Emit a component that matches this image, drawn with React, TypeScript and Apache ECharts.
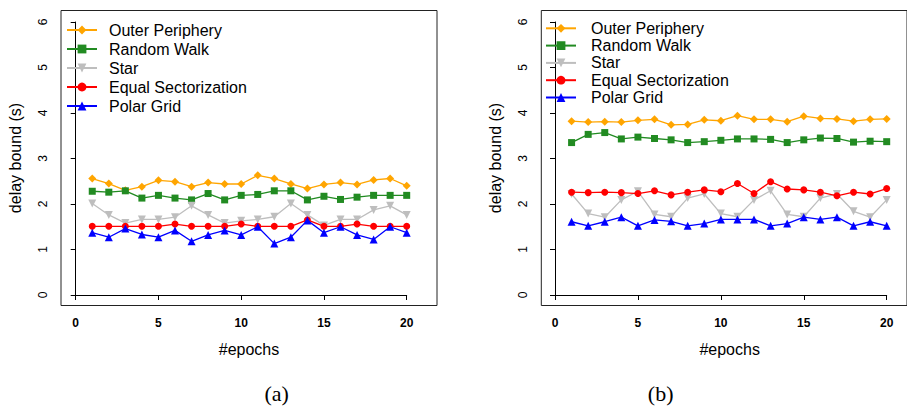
import React, { useEffect, useRef } from 'react';
import * as echarts from 'echarts';

const epochs = [1, 2, 3, 4, 5, 6, 7, 8, 9, 10, 11, 12, 13, 14, 15, 16, 17, 18, 19, 20];

const seriesNames = ['Outer Periphery', 'Random Walk', 'Star', 'Equal Sectorization', 'Polar Grid'];
const seriesColors = ['#FFA500', '#228B22', '#BEBEBE', '#FF0000', '#0000FF'];
const seriesSymbols = ['diamond', 'rect', 'path://M0,0L10,0L5,9Z', 'circle', 'triangle'];
const seriesSymbolSizes = [8, 7, 8, 7, 8];

// Panel (a)
const outerA = [2.56, 2.45, 2.3, 2.38, 2.52, 2.49, 2.38, 2.47, 2.44, 2.44, 2.63, 2.56, 2.44, 2.34, 2.43, 2.47, 2.43, 2.53, 2.56, 2.4];
const randomA = [2.28, 2.26, 2.29, 2.13, 2.19, 2.13, 2.09, 2.23, 2.09, 2.19, 2.21, 2.29, 2.29, 2.09, 2.17, 2.1, 2.15, 2.19, 2.19, 2.19];
const starA = [2.01, 1.76, 1.58, 1.66, 1.66, 1.71, 1.96, 1.76, 1.58, 1.63, 1.66, 1.72, 2.01, 1.76, 1.53, 1.66, 1.66, 1.87, 1.96, 1.76];
const equalA = [1.51, 1.51, 1.51, 1.51, 1.51, 1.56, 1.51, 1.51, 1.51, 1.56, 1.51, 1.51, 1.51, 1.65, 1.51, 1.51, 1.56, 1.51, 1.51, 1.51];
const polarA = [1.37, 1.27, 1.46, 1.33, 1.27, 1.42, 1.18, 1.32, 1.42, 1.32, 1.5, 1.13, 1.27, 1.64, 1.37, 1.5, 1.32, 1.22, 1.5, 1.37];

// Panel (b)
const outerB = [3.82, 3.8, 3.81, 3.8, 3.84, 3.86, 3.74, 3.75, 3.85, 3.83, 3.94, 3.86, 3.86, 3.81, 3.93, 3.88, 3.87, 3.82, 3.86, 3.87];
const randomB = [3.35, 3.53, 3.57, 3.43, 3.47, 3.44, 3.41, 3.35, 3.37, 3.4, 3.43, 3.43, 3.42, 3.35, 3.41, 3.45, 3.44, 3.36, 3.38, 3.37];
const starB = [2.22, 1.79, 1.71, 2.09, 2.28, 1.77, 1.72, 2.13, 2.22, 1.79, 1.72, 2.09, 2.29, 1.77, 1.72, 2.13, 2.22, 1.84, 1.71, 2.09];
const equalB = [2.26, 2.25, 2.26, 2.25, 2.23, 2.29, 2.2, 2.26, 2.31, 2.27, 2.45, 2.23, 2.49, 2.33, 2.31, 2.26, 2.18, 2.26, 2.22, 2.34];
const polarB = [1.61, 1.52, 1.61, 1.71, 1.52, 1.65, 1.62, 1.52, 1.57, 1.66, 1.66, 1.66, 1.52, 1.57, 1.71, 1.66, 1.71, 1.52, 1.61, 1.52];

const panelA = [outerA, randomA, starA, equalA, polarA];
const panelB = [outerB, randomB, starB, equalB, polarB];

const xMin = 0;
const xMax = 20;
const xInterval = 5;
const yMin = 0;
const yMax = 6;
const yInterval = 1;

const xTitle = '#epochs';
const yTitle = 'delay bound (s)';
const panelLabels = ['(a)', '(b)'];

const SANS = '"Liberation Sans", Arial, Helvetica, sans-serif';
const SERIF = '"Liberation Serif", "DejaVu Serif", serif';

export default function App() {
  const ref = useRef<HTMLDivElement>(null);

  useEffect(() => {
    if (!ref.current) return;
    const chart = echarts.init(ref.current, undefined, { renderer: 'svg' });

    const frames = [
      { left: 61, top: 10.5, width: 376, height: 295, xNamePad: 0 },
      { left: 541.3, top: 10.5, width: 376, height: 295, xNamePad: 11 },
    ];
    const dataGrids = [
      { left: 75.7, top: 22, width: 331, height: 273, yOffset: 14.7 },
      { left: 555, top: 22, width: 331.7, height: 273, yOffset: 13.7 },
    ];
    const legends = [
      { left: 66, top: 22, gap: 3, pad: 7 },
      { left: 545, top: 20.3, gap: 1.3, pad: 10 },
    ];

    const grid: any[] = [];
    const xAxis: any[] = [];
    const yAxis: any[] = [];
    const series: any[] = [];
    const legend: any[] = [];

    [panelA, panelB].forEach((panel, p) => {
      const f = frames[p];
      const d = dataGrids[p];
      const frameIdx = grid.length;
      grid.push({
        left: f.left, top: f.top, width: f.width, height: f.height,
        show: true, borderColor: '#222', borderWidth: 1, backgroundColor: 'transparent',
        containLabel: false,
      });
      const dataIdx = grid.length;
      grid.push({ left: d.left, top: d.top, width: d.width, height: d.height, containLabel: false });

      xAxis.push({
        gridIndex: frameIdx, type: 'value', min: 0, max: 1,
        axisLine: { show: false }, axisTick: { show: false }, axisLabel: { show: false }, splitLine: { show: false },
        name: xTitle, nameLocation: 'middle', nameGap: 36,
        nameTextStyle: { fontFamily: SANS, fontSize: 16, color: '#000', padding: [0, 0, 0, f.xNamePad] },
      });
      yAxis.push({
        gridIndex: frameIdx, type: 'value', min: 0, max: 1,
        axisLine: { show: false }, axisTick: { show: false }, axisLabel: { show: false }, splitLine: { show: false },
        name: yTitle, nameLocation: 'middle', nameGap: 38,
        nameTextStyle: { fontFamily: SANS, fontSize: 16, color: '#000' },
      });
      const xIdx = xAxis.length;
      xAxis.push({
        gridIndex: dataIdx, type: 'value', min: xMin, max: xMax, interval: xInterval,
        offset: 10.5,
        axisLine: { show: true, lineStyle: { color: '#000', width: 1 } },
        axisTick: { show: true, length: 5, lineStyle: { color: '#000' } },
        axisLabel: { fontFamily: SANS, fontSize: 12, fontWeight: 'bold', color: '#000', margin: 11 },
        splitLine: { show: false },
      });
      const yIdx = yAxis.length;
      yAxis.push({
        gridIndex: dataIdx, type: 'value', min: yMin, max: yMax, interval: yInterval,
        offset: d.yOffset,
        axisLine: { show: true, lineStyle: { color: '#000', width: 1 } },
        axisTick: { show: true, length: 5, lineStyle: { color: '#000' } },
        axisLabel: { fontFamily: SANS, fontSize: 12, color: '#000', rotate: 90, margin: 12 },
        splitLine: { show: false },
      });

      panel.forEach((vals, i) => {
        series.push({
          type: 'line',
          name: seriesNames[i],
          xAxisIndex: xIdx,
          yAxisIndex: yIdx,
          data: epochs.map((e, k) => [e, vals[k]]),
          symbol: seriesSymbols[i],
          symbolSize: seriesSymbolSizes[i],
          showSymbol: true,
          color: seriesColors[i],
          itemStyle: { color: seriesColors[i] },
          lineStyle: { color: seriesColors[i], width: 1.3 },
          z: 2 + i,
        });
      });

      const lg = legends[p];
      legend.push({
        orient: 'vertical',
        left: lg.left,
        top: lg.top,
        padding: 0,
        itemWidth: 30,
        itemHeight: 11,
        itemGap: lg.gap,
        data: seriesNames,
        selectedMode: false,
        textStyle: { fontFamily: SANS, fontSize: 16, color: '#000', lineHeight: 16, padding: [0, 0, 0, lg.pad] },
      });
    });

    chart.setOption({
      animation: false,
      backgroundColor: '#fff',
      grid,
      xAxis,
      yAxis,
      legend,
      series,
      graphic: [
        {
          type: 'text', x: 276.7, y: 393,
          style: { text: panelLabels[0], font: `22px ${SERIF}`, fill: '#000', textAlign: 'center', textVerticalAlign: 'middle' },
        },
        {
          type: 'text', x: 660.7, y: 393,
          style: { text: panelLabels[1], font: `22px ${SERIF}`, fill: '#000', textAlign: 'center', textVerticalAlign: 'middle' },
        },
      ],
    });

    return () => chart.dispose();
  }, []);

  return (
    <div style={{ position: 'fixed', left: 0, top: 0, width: 907, height: 406, background: '#fff' }}>
      <div ref={ref} style={{ width: 907, height: 406 }} />
    </div>
  );
}
